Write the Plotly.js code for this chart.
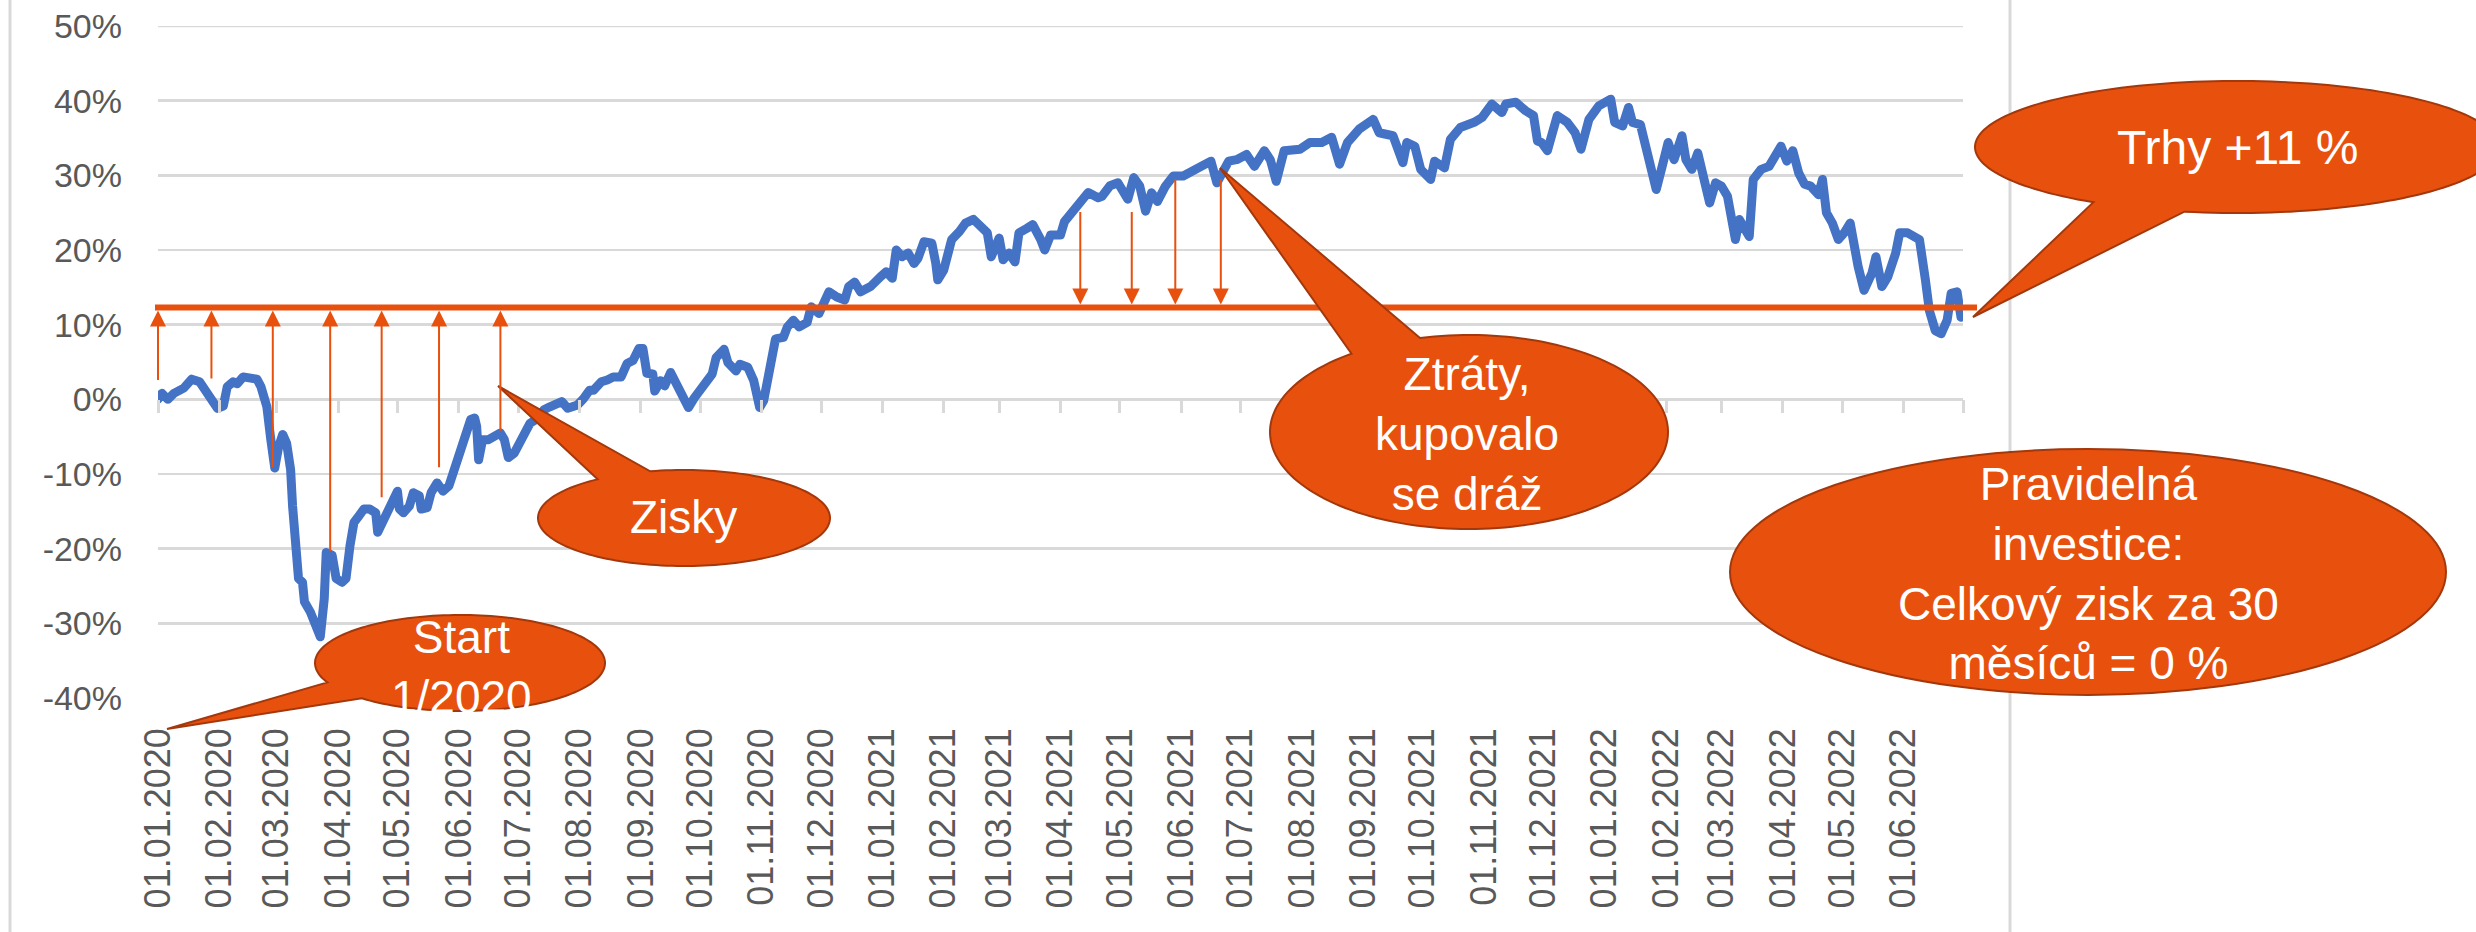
<!DOCTYPE html>
<html>
<head>
<meta charset="utf-8">
<script src="https://cdn.plot.ly/plotly-3.0.1.min.js"></script>
<style>
html,body{margin:0;padding:0;background:#ffffff;}
#chart{width:2476px;height:932px;}
.scatterlayer .js-line{stroke-linejoin:round;stroke-linecap:round;}
</style>
</head>
<body>
<div id="chart"></div>
<script>
// ---------------- DATA ----------------
const seriesDates = [
'2020-01-01','2020-01-03','2020-01-06','2020-01-09','2020-01-14','2020-01-18','2020-01-22','2020-01-25','2020-01-29','2020-01-31',
'2020-02-03','2020-02-05','2020-02-08','2020-02-10','2020-02-13','2020-02-16','2020-02-20','2020-02-22','2020-02-25','2020-02-27',
'2020-02-28','2020-02-29','2020-03-02','2020-03-04','2020-03-06','2020-03-08','2020-03-09','2020-03-11','2020-03-12','2020-03-14',
'2020-03-15','2020-03-18','2020-03-20','2020-03-23','2020-03-25','2020-03-26','2020-03-29','2020-03-31','2020-04-03','2020-04-05',
'2020-04-07','2020-04-09','2020-04-11','2020-04-14','2020-04-17','2020-04-20','2020-04-21','2020-04-24','2020-04-26','2020-04-29',
'2020-05-01','2020-05-02','2020-05-04','2020-05-07','2020-05-09','2020-05-12','2020-05-13','2020-05-16','2020-05-18','2020-05-21',
'2020-05-24','2020-05-27','2020-05-29','2020-05-31','2020-06-02','2020-06-04','2020-06-07','2020-06-09','2020-06-10','2020-06-11',
'2020-06-13','2020-06-16','2020-06-18','2020-06-22','2020-06-24','2020-06-26','2020-06-29','2020-07-01','2020-07-04','2020-07-07',
'2020-07-10','2020-07-14','2020-07-17','2020-07-21','2020-07-23','2020-07-26','2020-07-29','2020-07-31','2020-08-03','2020-08-06',
'2020-08-08','2020-08-12','2020-08-15','2020-08-18','2020-08-22','2020-08-25','2020-08-28','2020-08-31','2020-09-02','2020-09-04',
'2020-09-07','2020-09-08','2020-09-11','2020-09-13','2020-09-16','2020-09-18','2020-09-22','2020-09-25','2020-09-28','2020-10-01',
'2020-10-04','2020-10-07','2020-10-09','2020-10-13','2020-10-15','2020-10-19','2020-10-21','2020-10-25','2020-10-28','2020-10-30',
'2020-10-31','2020-11-02','2020-11-05','2020-11-07','2020-11-08','2020-11-12','2020-11-14','2020-11-17','2020-11-20','2020-11-24',
'2020-11-26','2020-11-30','2020-12-03','2020-12-05','2020-12-09','2020-12-13','2020-12-15','2020-12-18','2020-12-21','2020-12-26',
'2020-12-31','2021-01-03','2021-01-06','2021-01-08','2021-01-11','2021-01-14','2021-01-17','2021-01-19','2021-01-22','2021-01-26',
'2021-01-28','2021-01-29','2021-02-01','2021-02-03','2021-02-05','2021-02-09','2021-02-12','2021-02-16','2021-02-20','2021-02-23',
'2021-02-25','2021-03-01','2021-03-03','2021-03-06','2021-03-09','2021-03-11','2021-03-15','2021-03-18','2021-03-22','2021-03-24',
'2021-03-27','2021-04-01','2021-04-03','2021-04-08','2021-04-11','2021-04-15','2021-04-20','2021-04-22','2021-04-26','2021-04-30',
'2021-05-05','2021-05-08','2021-05-11','2021-05-14','2021-05-17','2021-05-20','2021-05-24','2021-05-28','2021-06-02','2021-06-07',
'2021-06-11','2021-06-16','2021-06-19','2021-06-22','2021-06-25','2021-06-29','2021-07-04','2021-07-08','2021-07-13','2021-07-16',
'2021-07-19','2021-07-23','2021-07-27','2021-07-31','2021-08-05','2021-08-11','2021-08-16','2021-08-20','2021-08-24','2021-08-30',
'2021-09-06','2021-09-09','2021-09-16','2021-09-19','2021-09-21','2021-09-23','2021-09-27','2021-09-30','2021-10-05','2021-10-07',
'2021-10-12','2021-10-15','2021-10-20','2021-10-27','2021-10-31','2021-11-05','2021-11-10','2021-11-12','2021-11-17','2021-11-22',
'2021-11-26','2021-11-28','2021-11-30','2021-12-03','2021-12-06','2021-12-08','2021-12-13','2021-12-17','2021-12-20','2021-12-24',
'2021-12-29','2022-01-04','2022-01-06','2022-01-10','2022-01-13','2022-01-15','2022-01-19','2022-01-22','2022-01-24','2022-01-27',
'2022-01-30','2022-02-02','2022-02-05','2022-02-09','2022-02-11','2022-02-14','2022-02-17','2022-02-20','2022-02-23','2022-02-26',
'2022-03-01','2022-03-04','2022-03-08','2022-03-10','2022-03-15','2022-03-17','2022-03-21','2022-03-25','2022-03-28','2022-03-31',
'2022-04-03','2022-04-06','2022-04-09','2022-04-12','2022-04-15','2022-04-19','2022-04-21','2022-04-23','2022-04-26','2022-04-29',
'2022-05-02','2022-05-05','2022-05-09','2022-05-12','2022-05-16','2022-05-18','2022-05-21','2022-05-24','2022-05-28','2022-05-30',
'2022-06-03','2022-06-07','2022-06-09','2022-06-12','2022-06-14','2022-06-17','2022-06-20','2022-06-23','2022-06-25','2022-06-28',
'2022-06-30'
];
const seriesValues = [
0.0,0.8,0.0,0.8,1.5,2.7,2.35,1.0,-0.5,-1.2,
-0.9,1.7,2.35,2.1,3.0,2.8,2.7,1.7,-1.0,-5.4,
-9.0,-9.2,-6.3,-4.7,-5.9,-9.4,-14.3,-19.6,-24.0,-24.5,
-27.1,-28.5,-29.8,-31.8,-26.7,-20.5,-20.9,-24.0,-24.5,-24.0,
-19.6,-16.5,-15.8,-14.7,-14.7,-15.2,-17.8,-16.1,-15.2,-13.8,
-12.3,-14.7,-15.2,-14.3,-12.5,-12.9,-14.7,-14.5,-12.5,-11.2,
-12.3,-11.6,-9.8,-9.0,-7.2,-4.5,-2.7,-2.5,-3.6,-8.1,
-5.4,-5.4,-5.0,-4.5,-5.4,-7.8,-7.2,-6.3,-4.5,-3.2,
-2.7,-1.4,-1.0,-0.5,-0.3,-1.2,-1.0,-0.75,0.1,1.2,
1.2,2.35,2.6,3.0,3.0,4.8,5.2,6.8,6.8,3.5,
3.4,1.1,2.5,1.8,3.6,2.5,0.0,-1.1,0.2,1.35,
2.0,3.4,5.6,6.7,4.9,3.8,4.7,4.3,2.5,-0.7,
-1.1,-0.2,4.3,7.0,8.1,8.3,9.7,10.6,9.7,10.3,
12.4,11.5,13.7,14.4,13.7,13.3,15.1,15.7,14.4,15.1,
16.4,17.1,16.2,20.0,19.1,19.6,18.2,18.9,21.1,20.9,
18.2,16.0,17.3,19.1,21.4,22.5,23.6,24.1,23.2,22.3,
19.1,21.6,18.7,19.6,18.4,22.3,22.9,23.4,21.4,20.0,
22.0,22.0,23.8,25.4,26.3,27.7,27.0,27.2,28.6,29.0,
26.8,29.7,28.6,25.2,27.65,26.5,28.55,29.9,29.9,30.6,
31.5,31.9,29.0,30.3,31.9,32.1,32.8,31.2,33.3,32.1,
29.2,33.3,33.3,33.5,34.4,34.4,35.1,31.5,34.4,36.2,
37.5,35.7,35.3,33.3,31.7,34.4,33.9,30.8,29.45,31.9,
31.0,34.8,36.4,37.1,37.75,39.55,38.4,39.55,39.8,38.65,
38.0,34.6,34.4,33.3,35.7,38.0,37.1,35.7,33.5,37.5,
39.3,40.2,37.1,36.6,39.1,37.1,36.8,33.9,31.2,28.1,
31.2,34.4,32.1,35.3,32.1,30.8,33.0,29.9,26.3,29.0,
28.55,27.2,21.4,24.1,21.8,29.45,30.8,31.2,32.8,33.9,
31.9,33.3,30.3,28.8,28.55,27.4,29.45,25.0,23.6,21.4,
22.3,23.6,17.8,14.6,16.9,19.1,15.1,16.4,19.6,22.3,
22.3,21.8,21.4,16.0,11.9,9.2,8.8,10.6,14.2,14.4,
11.0
];

const tickDates = [
'2020-01-01','2020-02-01','2020-03-01','2020-04-01','2020-05-01','2020-06-01','2020-07-01','2020-08-01','2020-09-01','2020-10-01','2020-11-01','2020-12-01',
'2021-01-01','2021-02-01','2021-03-01','2021-04-01','2021-05-01','2021-06-01','2021-07-01','2021-08-01','2021-09-01','2021-10-01','2021-11-01','2021-12-01',
'2022-01-01','2022-02-01','2022-03-01','2022-04-01','2022-05-01','2022-06-01'
];
const tickLabels = [
'01.01.2020','01.02.2020','01.03.2020','01.04.2020','01.05.2020','01.06.2020','01.07.2020','01.08.2020','01.09.2020','01.10.2020','01.11.2020','01.12.2020',
'01.01.2021','01.02.2021','01.03.2021','01.04.2021','01.05.2021','01.06.2021','01.07.2021','01.08.2021','01.09.2021','01.10.2021','01.11.2021','01.12.2021',
'01.01.2022','01.02.2022','01.03.2022','01.04.2022','01.05.2022','01.06.2022'
];
const yTickValues = [-40,-30,-20,-10,0,10,20,30,40,50];
const yTickLabels = ['-40%','-30%','-20%','-10%','0%','10%','20%','30%','40%','50%'];

const marketLevel = 12.3;           // horizontal reference line (market +%)
const gainArrowDates = ['2020-01-01','2020-01-28','2020-02-28','2020-03-28','2020-04-23','2020-05-22','2020-06-22'];
const gainArrowFrom  = [2.4, 2.6, -9.3, -20.5, -13.3, -9.3, -4.4];
const lossArrowDates = ['2021-04-11','2021-05-07','2021-05-29','2021-06-21'];
const lossArrowFrom  = [25.3, 25.3, 29.7, 29.7];

const xRange = ['2020-01-01','2022-07-01'];
const yRange = [-40, 50];

// ---------------- LAYOUT GEOMETRY ----------------
const W = 2476, H = 932;
const L = 158, R = 1963, T = 26, B = 698;
const ORANGE = '#E8500E', EDGE = '#A3380C', BLUE = '#4472C4', GRID = '#D9D9D9', TXT = '#595959';
const FONT = 'Liberation Sans, Arial, sans-serif';
const px = x => (x - L) / (R - L);
const py = y => (B - y) / (B - T);

function calloutPath(b){
  const n = 160;
  const ang = p => Math.atan2((p[1]-b.cy)/b.ry, (p[0]-b.cx)/b.rx);
  const a1 = ang(b.b1), a2 = ang(b.b2);
  let d = a2 - a1;
  while (d > Math.PI) d -= 2*Math.PI;
  while (d <= -Math.PI) d += 2*Math.PI;
  const sweep = d - Math.sign(d)*2*Math.PI;
  let s = 'M' + px(b.tip[0]).toFixed(5) + ',' + py(b.tip[1]).toFixed(5);
  for (let i = 0; i <= n; i++){
    const a = a1 + sweep*i/n;
    const x = b.cx + b.rx*Math.cos(a), y = b.cy + b.ry*Math.sin(a);
    s += 'L' + px(x).toFixed(5) + ',' + py(y).toFixed(5);
  }
  return s + 'Z';
}

const bubbles = [
  {cx:460,  cy:663, rx:145, ry:48, tip:[167,729],  b1:[330,682],  b2:[360,699]},
  {cx:684,  cy:518, rx:146, ry:48, tip:[498,386],  b1:[597,479],  b2:[650,471]},
  {cx:1469, cy:432, rx:199, ry:97, tip:[1220,168], b1:[1352,354], b2:[1420,338]},
  {cx:2237, cy:147, rx:262, ry:66, tip:[1973,317], b1:[2094,202], b2:[2185,211]}
];
const bubbleTexts = [
  {x:461,  y:667, size:46, text:'Start<br>1/2020'},
  {x:683,  y:517, size:46, text:'Zisky'},
  {x:1467, y:434, size:46, text:'Ztráty,<br>kupovalo<br>se dráž'},
  {x:2237, y:147, size:48, text:'Trhy +11 %'},
  {x:2088, y:573, size:46, text:'Pravidelná<br>investice:<br>Celkový zisk za 30<br>měsíců = 0 %'}
];

const shapes = [];
// chart frame lines (left & right)
shapes.push({type:'line', xref:'paper', yref:'paper', x0:px(10), x1:px(10), y0:py(0), y1:py(H), line:{color:GRID, width:3}, layer:'below'});
shapes.push({type:'line', xref:'paper', yref:'paper', x0:px(2010), x1:px(2010), y0:py(0), y1:py(H), line:{color:GRID, width:3}, layer:'below'});
// top gridline (at range edge)
shapes.push({type:'line', xref:'paper', yref:'y', x0:0, x1:1, y0:yRange[1], y1:yRange[1], line:{color:GRID, width:2.5}, layer:'below'});
// market level line
shapes.push({type:'line', xref:'paper', yref:'y', x0:px(155), x1:px(1977), y0:marketLevel, y1:marketLevel, line:{color:ORANGE, width:6}});
// callouts
bubbles.forEach(b => shapes.push({type:'path', xref:'paper', yref:'paper', path:calloutPath(b), fillcolor:ORANGE, line:{color:EDGE, width:2}}));
shapes.push({type:'circle', xref:'paper', yref:'paper', x0:px(1730), x1:px(2446), y0:py(695), y1:py(449), fillcolor:ORANGE, line:{color:EDGE, width:2}});

const annotations = [];
gainArrowDates.forEach((d,i) => annotations.push({
  x:d, y:marketLevel-0.4, ax:d, ay:gainArrowFrom[i], xref:'x', yref:'y', axref:'x', ayref:'y',
  text:'', showarrow:true, arrowhead:2, arrowsize:1.6, arrowwidth:2, arrowcolor:ORANGE, standoff:0, startstandoff:0
}));
lossArrowDates.forEach((d,i) => annotations.push({
  x:d, y:marketLevel+0.4, ax:d, ay:lossArrowFrom[i], xref:'x', yref:'y', axref:'x', ayref:'y',
  text:'', showarrow:true, arrowhead:2, arrowsize:1.6, arrowwidth:2, arrowcolor:ORANGE, standoff:0, startstandoff:0
}));
bubbleTexts.forEach(t => annotations.push({
  xref:'paper', yref:'paper', x:px(t.x), y:py(t.y), xanchor:'center', yanchor:'middle',
  text:t.text, showarrow:false, align:'center', font:{family:FONT, size:t.size, color:'#ffffff'}
}));

const traces = [
  {x:seriesDates, y:seriesValues, type:'scatter', mode:'lines', line:{color:BLUE, width:9}, hoverinfo:'skip', showlegend:false},
  {x:tickDates, y:tickDates.map(() => null), xaxis:'x2', yaxis:'y', type:'scatter', mode:'lines', hoverinfo:'skip', showlegend:false}
];

const layout = {
  width:W, height:H,
  margin:{l:L, r:W-R, t:T, b:H-B, pad:0},
  paper_bgcolor:'#ffffff', plot_bgcolor:'#ffffff',
  showlegend:false,
  xaxis:{
    type:'date', range:xRange, tickmode:'array', tickvals:tickDates, ticktext:tickLabels,
    tickangle:-90, tickfont:{family:FONT, size:36, color:TXT}, ticks:'', ticklabelstandoff:22,
    showgrid:false, zeroline:false, showline:false, fixedrange:true
  },
  xaxis2:{
    type:'date', range:xRange, overlaying:'x', anchor:'free',
    position:(0 - yRange[0])/(yRange[1]-yRange[0]), side:'bottom',
    tickmode:'linear', tick0:'2020-01-01', dtick:'M1',
    ticks:'outside', ticklen:13, tickwidth:3, tickcolor:GRID,
    showticklabels:false, showgrid:false, zeroline:false, showline:false, fixedrange:true
  },
  yaxis:{
    range:yRange, tickmode:'array', tickvals:yTickValues, ticktext:yTickLabels,
    tickfont:{family:FONT, size:34, color:TXT}, ticks:'', ticklabelstandoff:35,
    showgrid:true, gridcolor:GRID, gridwidth:2.5, zeroline:false, showline:false, fixedrange:true
  },
  shapes:shapes,
  annotations:annotations
};

Plotly.newPlot('chart', traces, layout, {staticPlot:true, displayModeBar:false});
</script>
</body>
</html>
